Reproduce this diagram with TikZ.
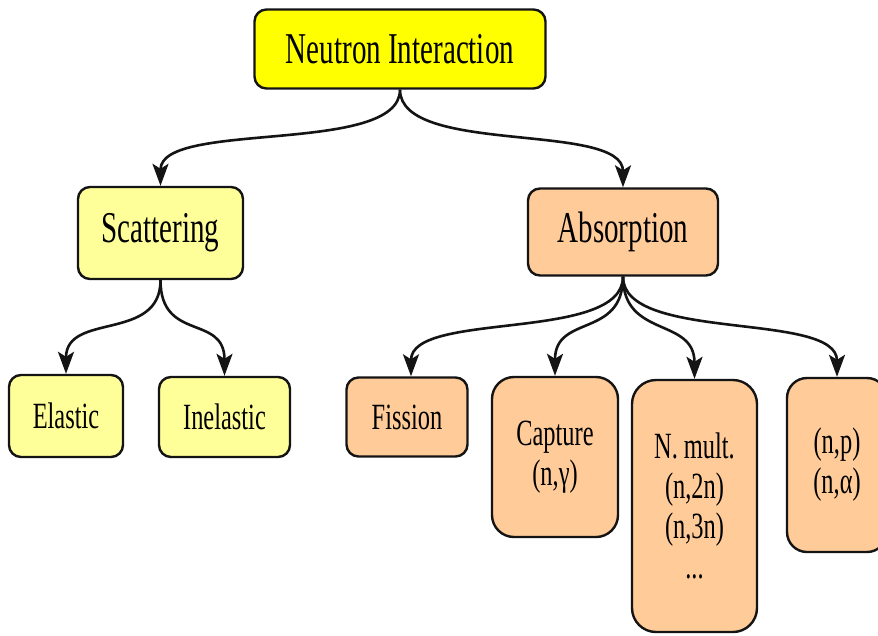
\documentclass[tikz,border=0pt]{standalone}
\usepackage{fontspec}
\setmainfont{Liberation Serif}[FakeStretch=0.66]
\usetikzlibrary{arrows.meta}
\definecolor{nyellow}{HTML}{FFFF00}
\definecolor{lyellow}{HTML}{FFFF99}
\definecolor{peach}{HTML}{FFCC99}
\definecolor{edgec}{HTML}{141414}
\tikzset{
  box/.style={draw=edgec, line width=2.4pt, rounded corners=12pt, align=center, inner sep=0pt},
  bigtext/.style={font={\fontsize{44}{48}\selectfont}},
  smalltext/.style={font={\fontsize{37}{40}\selectfont}},
  arr/.style={draw=edgec, line width=2.6pt, -{Stealth[length=22pt,width=16pt,inset=5pt]}}
}
\begin{document}
\begin{tikzpicture}[x=1pt,y=-1pt]
\useasboundingbox (0,0) rectangle (878,635);
\clip (0,0) rectangle (878,635);
\fill[white] (0,0) rectangle (878,635);

\node[box, bigtext, fill=nyellow, minimum width=291, minimum height=79] (ni) at (400,49) {Neutron Interaction};
\node[box, bigtext, fill=lyellow, minimum width=165, minimum height=92] (sc) at (160.5,233) {Scattering};
\node[box, bigtext, fill=peach, minimum width=190, minimum height=87] (ab) at (623,232) {Absorption};

\node[box, smalltext, fill=lyellow, minimum width=114, minimum height=82] (el) at (66,416) {Elastic};
\node[box, smalltext, fill=lyellow, minimum width=131, minimum height=80] (inel) at (224.5,417) {Inelastic};

\node[box, smalltext, fill=peach, minimum width=121, minimum height=79] (fi) at (407,417) {Fission};
\node[box, smalltext, fill=peach, rounded corners=22pt, minimum width=126, minimum height=160] (ca) at (555,457) {Capture\\(n,γ)};
\node[box, smalltext, fill=peach, rounded corners=24pt, minimum width=125, minimum height=252] (nm) at (694.5,506) {N. mult.\\(n,2n)\\(n,3n)\\...};
\node[box, smalltext, fill=peach, rounded corners=20pt, minimum width=100, minimum height=174] (np) at (837,465) {(n,p)\\(n,α)};

\draw[arr] (ni.south) .. controls +(0,66) and +(0,-66) .. (sc.north);
\draw[arr] (ni.south) .. controls +(0,66) and +(0,-66) .. (ab.north);

\draw[arr] (sc.south) .. controls +(0,62) and +(0,-62) .. (el.north);
\draw[arr] (sc.south) .. controls +(0,62) and +(0,-62) .. (inel.north);

\draw[arr] (ab.south) .. controls +(0,66) and +(0,-66) .. ([xshift=4pt]fi.north);
\draw[arr] (ab.south) .. controls +(0,62) and +(0,-62) .. (ca.north);
\draw[arr] (ab.south) .. controls +(0,62) and +(0,-62) .. (nm.north);
\draw[arr] (ab.south) .. controls +(0,66) and +(0,-66) .. (np.north);
\end{tikzpicture}
\end{document}
